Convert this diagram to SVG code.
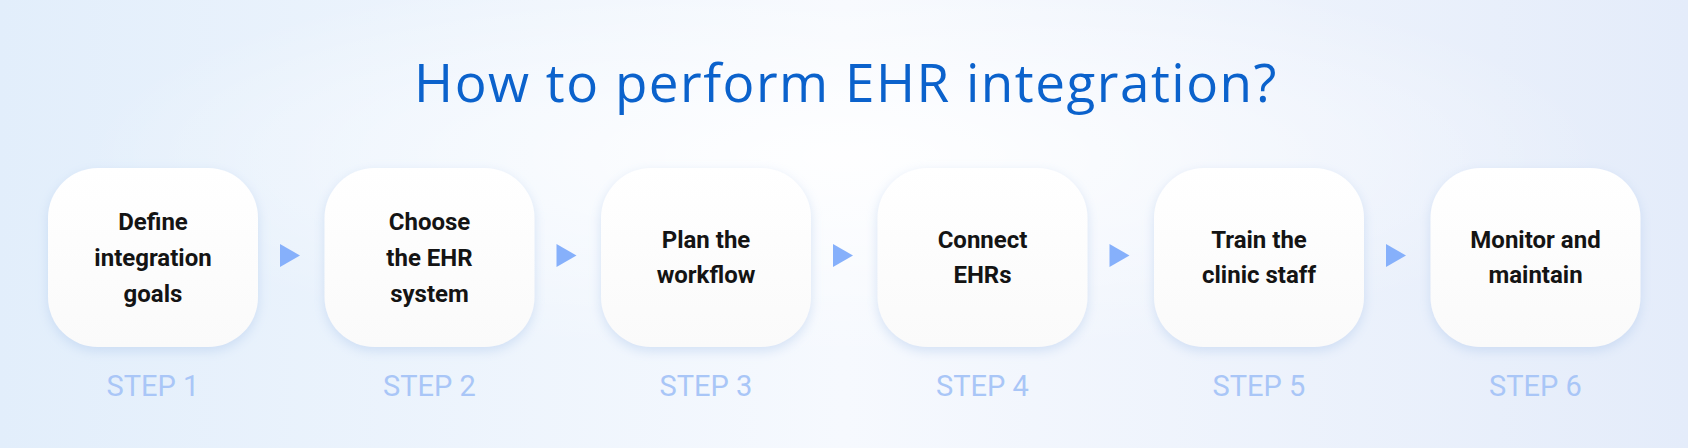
<svg xmlns="http://www.w3.org/2000/svg" width="1688" height="448" viewBox="0 0 1688 448">
<defs>
<linearGradient id="bg" x1="0" y1="0" x2="1" y2="0">
<stop offset="0" stop-color="#e2eefb"/>
<stop offset="0.5" stop-color="#f6f9fe"/>
<stop offset="1" stop-color="#e4ecfa"/>
</linearGradient>
<radialGradient id="glow" cx="0.5" cy="0.35" r="0.45">
<stop offset="0" stop-color="#ffffff" stop-opacity="0.9"/>
<stop offset="1" stop-color="#ffffff" stop-opacity="0"/>
</radialGradient>
<linearGradient id="card" x1="0" y1="0" x2="0" y2="1">
<stop offset="0" stop-color="#ffffff"/>
<stop offset="1" stop-color="#fafafa"/>
</linearGradient>
<filter id="sh" x="-20%" y="-20%" width="140%" height="150%">
<feDropShadow dx="0" dy="4" stdDeviation="6" flood-color="#a9c4ea" flood-opacity="0.45"/>
</filter>
<polygon id="arr" points="0,0 20,11.5 0,23" fill="#86b0fb"/>
</defs>
<style>
.card{fill:url(#card);filter:url(#sh)}
.lbl{font-family:Roboto,"Liberation Sans",sans-serif;font-weight:700;font-size:24px;fill:#141414;text-anchor:middle}
.step{font-family:Roboto,"Liberation Sans",sans-serif;font-size:29px;fill:#a9c6f7;text-anchor:middle}
.title{font-family:"Open Sans","Liberation Sans",sans-serif;font-size:53px;letter-spacing:1.5px;fill:#0b62cc;text-anchor:middle}
</style>
<rect width="1688" height="448" fill="url(#bg)"/>
<rect width="1688" height="448" fill="url(#glow)"/>
<text class="title" x="846" y="102">How to perform EHR integration?</text>
<g id="connectors">
<use href="#arr" x="280" y="244"/>
<use href="#arr" x="556.5" y="244"/>
<use href="#arr" x="833" y="244"/>
<use href="#arr" x="1109.5" y="244"/>
<use href="#arr" x="1386" y="244"/>
</g>
<g id="step1"><rect class="card" x="48" y="168" width="210" height="179" rx="50"/>
<text class="lbl" x="153" y="230">Define</text><text class="lbl" x="153" y="266">integration</text><text class="lbl" x="153" y="302">goals</text>
<text class="step" x="153" y="396">STEP 1</text></g>
<g id="step2"><rect class="card" x="324.5" y="168" width="210" height="179" rx="50"/>
<text class="lbl" x="429.5" y="230">Choose</text><text class="lbl" x="429.5" y="266">the EHR</text><text class="lbl" x="429.5" y="302">system</text>
<text class="step" x="429.5" y="396">STEP 2</text></g>
<g id="step3"><rect class="card" x="601" y="168" width="210" height="179" rx="50"/>
<text class="lbl" x="706" y="248">Plan the</text><text class="lbl" x="706" y="283">workflow</text>
<text class="step" x="706" y="396">STEP 3</text></g>
<g id="step4"><rect class="card" x="877.5" y="168" width="210" height="179" rx="50"/>
<text class="lbl" x="982.5" y="248">Connect</text><text class="lbl" x="982.5" y="283">EHRs</text>
<text class="step" x="982.5" y="396">STEP 4</text></g>
<g id="step5"><rect class="card" x="1154" y="168" width="210" height="179" rx="50"/>
<text class="lbl" x="1259" y="248">Train the</text><text class="lbl" x="1259" y="283">clinic staff</text>
<text class="step" x="1259" y="396">STEP 5</text></g>
<g id="step6"><rect class="card" x="1430.5" y="168" width="210" height="179" rx="50"/>
<text class="lbl" x="1535.5" y="248">Monitor and</text><text class="lbl" x="1535.5" y="283">maintain</text>
<text class="step" x="1535.5" y="396">STEP 6</text></g>
</svg>
